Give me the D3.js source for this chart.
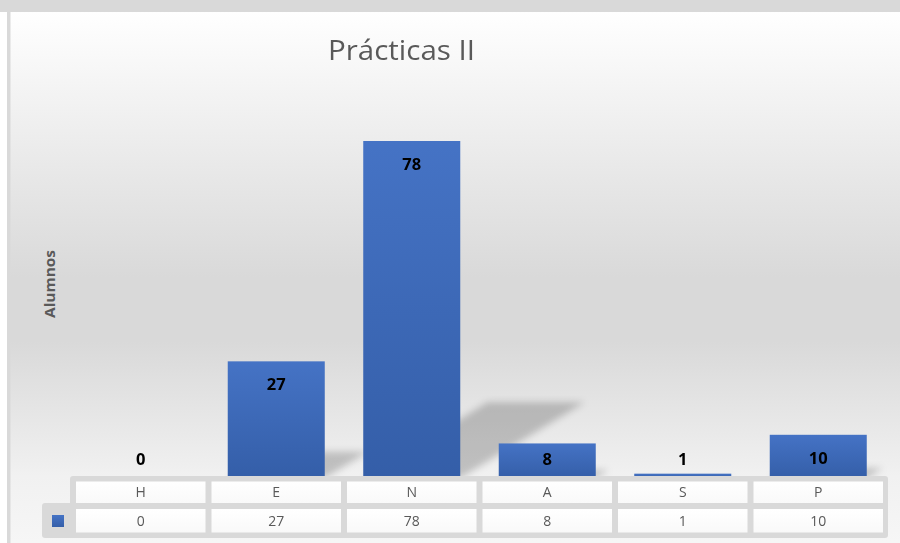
<!DOCTYPE html>
<html>
<head>
<meta charset="utf-8">
<script src="https://cdn.jsdelivr.net/npm/d3@7"></script>
<style>
  html, body { margin: 0; padding: 0; background: #ffffff; }
  svg { display: block; }
</style>
</head>
<body>
<svg id="chart" width="900" height="543"></svg>
<script>
// ---- data ----
const categories = ["H", "E", "N", "A", "S", "P"];
const values = [0, 27, 78, 8, 1, 10];
const chartTitle = "Prácticas II";
const yAxisTitle = "Alumnos";

const W = 900, H = 543;
const svg = d3.select("#chart");
const defs = svg.append("defs");

// background gradient
const bg = defs.append("linearGradient").attr("id", "bgGrad")
  .attr("x1", 0).attr("y1", 0).attr("x2", 0).attr("y2", 1);
[[0, "#ffffff"], [0.17, "#f2f2f2"], [0.5, "#d9d9d9"], [0.62, "#d9d9d9"], [0.875, "#f1f1f1"], [1, "#f6f6f6"]]
  .forEach(([o, c]) => bg.append("stop").attr("offset", o).attr("stop-color", c));

// bar gradient
const bgBar = defs.append("linearGradient").attr("id", "barGrad")
  .attr("x1", 0).attr("y1", 0).attr("x2", 0).attr("y2", 1);
bgBar.append("stop").attr("offset", 0).attr("stop-color", "#4573c5");
bgBar.append("stop").attr("offset", 1).attr("stop-color", "#345ea8");

const blur = defs.append("filter").attr("id", "shadowBlur")
  .attr("x", "-20%").attr("y", "-20%").attr("width", "140%").attr("height", "140%");
blur.append("feGaussianBlur").attr("stdDeviation", 3.5);

// frame
svg.append("rect").attr("x", 0).attr("y", 0).attr("width", W).attr("height", H).attr("fill", "#ffffff");
svg.append("rect").attr("x", 10).attr("y", 12).attr("width", W - 10).attr("height", H - 12)
  .attr("fill", "url(#bgGrad)");
svg.append("rect").attr("x", 0).attr("y", 0).attr("width", W).attr("height", 12).attr("fill", "#d9d9d9");
svg.append("rect").attr("x", 7).attr("y", 12).attr("width", 3.5).attr("height", H - 12).attr("fill", "#d9d9d9");

// scales
const x = d3.scaleBand().domain(categories).range([73, 886]).padding(0);
const bw = x.bandwidth();
const barW = bw * 0.716;
const barOff = (bw - barW) / 2;
const y = d3.scaleLinear().domain([0, 78]).range([478, 141]);

const data = categories.map((c, i) => ({ c, v: values[i] }));

// shadows
const k = 0.225, slope = 1.64;
svg.append("g").attr("filter", "url(#shadowBlur)")
  .selectAll("path").data(data.filter(d => d.v > 0)).join("path")
  .attr("d", d => {
    const x0 = x(d.c) + barOff, x1 = x0 + barW;
    const base = y(0), h = y(0) - y(d.v);
    const up = h * k, dx = up * slope;
    return `M${x0},${base}L${x1},${base}L${x1 + dx},${base - up}L${x0 + dx},${base - up}Z`;
  })
  .attr("fill", "#000").attr("opacity", 0.2);

// bars
svg.append("g").selectAll("rect").data(data).join("rect")
  .attr("x", d => x(d.c) + barOff)
  .attr("width", barW)
  .attr("y", d => y(d.v))
  .attr("height", d => y(0) - y(d.v))
  .attr("fill", "url(#barGrad)");

// data labels
svg.append("g").selectAll("text").data(data).join("text")
  .attr("x", d => x(d.c) + bw / 2)
  .attr("y", d => Math.min(y(d.v) + 29, 465))
  .attr("text-anchor", "middle")
  .attr("font-family", "'Open Sans', sans-serif")
  .attr("font-weight", "bold")
  .attr("font-size", 16.5)
  .attr("fill", "#000")
  .text(d => d.v);

// title
svg.append("text")
  .attr("x", 401.5).attr("y", 60)
  .attr("text-anchor", "middle")
  .attr("font-family", "'Open Sans', sans-serif")
  .attr("font-size", 27)
  .attr("fill", "#595959")
  .attr("textLength", 147).attr("lengthAdjust", "spacingAndGlyphs")
  .text(chartTitle);

// y axis title
svg.append("text")
  .attr("transform", "translate(55,284) rotate(-90)")
  .attr("text-anchor", "middle")
  .attr("font-family", "'Open Sans', sans-serif")
  .attr("font-weight", "bold")
  .attr("font-size", 14)
  .attr("fill", "#595959")
  .attr("textLength", 68).attr("lengthAdjust", "spacingAndGlyphs")
  .text(yAxisTitle);

// data table
const tbl = svg.append("g");
tbl.append("rect").attr("x", 70).attr("y", 476).attr("width", 818).attr("height", 62)
  .attr("rx", 3).attr("fill", "#d9d9d9");
tbl.append("rect").attr("x", 42).attr("y", 503).attr("width", 46).attr("height", 35)
  .attr("rx", 3).attr("fill", "#d9d9d9");

const cellGrad = defs.append("linearGradient").attr("id", "cellGrad")
  .attr("x1", 0).attr("y1", 0).attr("x2", 0).attr("y2", 1);
cellGrad.append("stop").attr("offset", 0).attr("stop-color", "#ffffff");
cellGrad.append("stop").attr("offset", 1).attr("stop-color", "#f9f9f9");

// header cells
tbl.append("g").selectAll("rect").data(categories).join("rect")
  .attr("x", c => x(c) + 3).attr("width", bw - 6)
  .attr("y", 481.5).attr("height", 21.5)
  .attr("fill", "url(#cellGrad)");
// data cells
tbl.append("g").selectAll("rect").data(categories).join("rect")
  .attr("x", c => x(c) + 3).attr("width", bw - 6)
  .attr("y", 509).attr("height", 23.5)
  .attr("fill", "url(#cellGrad)");

tbl.append("g").selectAll("text").data(categories).join("text")
  .attr("x", c => x(c) + bw / 2).attr("y", 497)
  .attr("text-anchor", "middle")
  .attr("font-family", "'Open Sans', sans-serif")
  .attr("font-size", 14)
  .attr("fill", "#595959")
  .text(c => c);

tbl.append("g").selectAll("text").data(data).join("text")
  .attr("x", d => x(d.c) + bw / 2).attr("y", 525.5)
  .attr("text-anchor", "middle")
  .attr("font-family", "'Open Sans', sans-serif")
  .attr("font-size", 14)
  .attr("fill", "#595959")
  .text(d => d.v);

// legend key
tbl.append("rect").attr("x", 52).attr("y", 515).attr("width", 12).attr("height", 12)
  .attr("fill", "url(#barGrad)");
</script>
</body>
</html>
